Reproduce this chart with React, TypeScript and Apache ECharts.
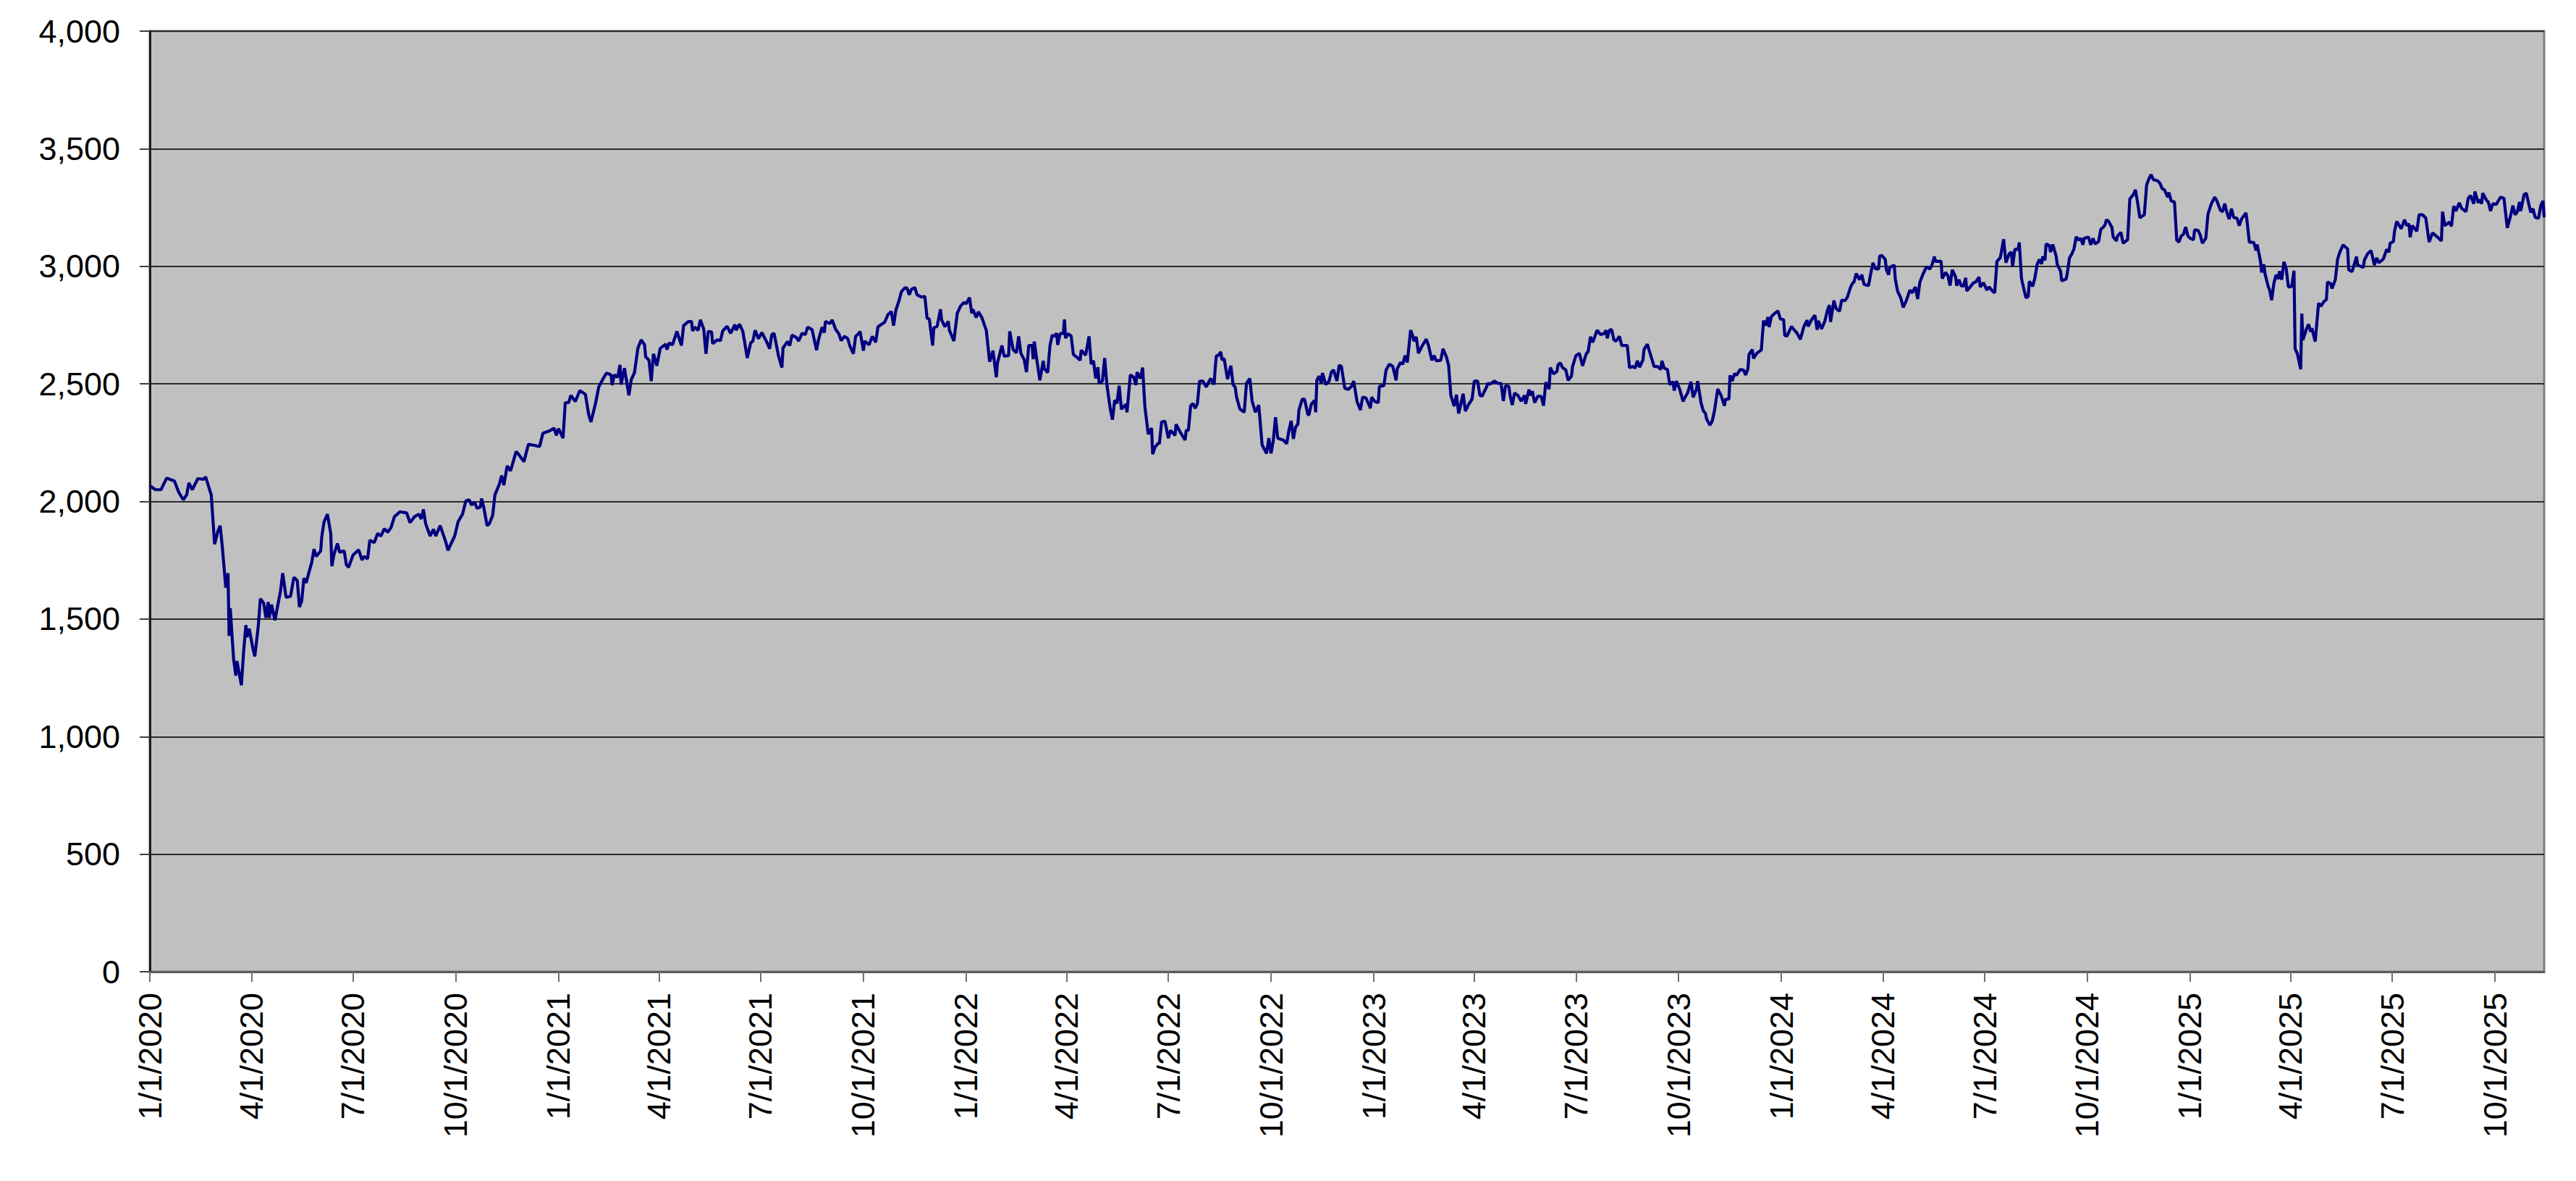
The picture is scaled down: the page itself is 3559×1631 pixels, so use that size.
import React, { useEffect, useRef } from "react";
import * as echarts from "echarts";

// Calendar-day offsets from 1/1/2020 and the index level read at each one.
const START_YEAR = 2020;
const LAST_DAY = 2144; // 11/14/2025

const days2020 = [0,5,10,15,22,26,30,33,35,38,43,48,50,55,58,61,63,65,67,68,70,71,72,75,77,78,82,84,86,87,89,92,94,97,99,102,104,106,107,109,112,117,119,122,126,129,132,134,136,138,140,142,145,147,149,153,154,156,159,162,163,165,168,170,174,176,178,182,187,190,192,195,197,201,204,207,210,213,216,219,224,230,233,237,241,243,245,247,251,254,256,260,265,267,270,273,276,280,283,286,288,291,293,296,297,299,302,304,307,309,313,315,317,320,323,328,330,335,339,345,349,352,358,362,364];
const vals2020 = [2067,2050,2050,2099,2087,2038,2007,2028,2079,2050,2097,2094,2104,2028,1818,1874,1897,1802,1690,1633,1695,1428,1546,1331,1259,1321,1218,1362,1474,1423,1459,1382,1341,1464,1587,1567,1505,1572,1505,1561,1495,1618,1695,1592,1597,1677,1664,1551,1577,1674,1654,1690,1741,1797,1766,1790,1851,1913,1946,1864,1725,1777,1821,1784,1790,1731,1720,1772,1794,1751,1766,1756,1835,1825,1864,1853,1884,1869,1889,1935,1956,1951,1910,1935,1946,1925,1966,1905,1853,1882,1853,1897,1828,1792,1823,1853,1913,1946,2002,2007,1985,1995,1971,1976,2012,1976,1897,1905,1941,2028,2074,2110,2069,2151,2130,2212,2202,2169,2243,2238,2233,2290,2300,2312,2281];

const days2021 = [366,370,372,375,377,381,385,390,393,395,399,402,406,409,413,414,416,419,421,422,425,429,431,434,437,440,443,444,447,449,451,454,457,462,463,465,468,472,476,478,482,485,486,488,491,493,496,498,500,503,504,508,511,513,517,520,524,525,528,531,535,538,540,542,545,548,552,555,557,559,563,566,567,571,573,575,579,581,584,587,589,593,597,599,602,604,605,609,611,614,617,619,622,625,627,630,632,635,636,639,640,644,647,650,652,658,661,664,666,668,671,673,676,678,680,682,685,687,691,694,696,698,701,702,705,708,709,712,715,716,720,723,726,729];
const vals2021 = [2310,2269,2420,2420,2451,2425,2471,2456,2369,2338,2415,2487,2523,2546,2538,2495,2538,2528,2581,2497,2567,2451,2517,2548,2651,2687,2666,2615,2600,2512,2628,2577,2651,2669,2646,2674,2666,2723,2663,2748,2764,2766,2725,2741,2728,2772,2733,2628,2723,2721,2671,2687,2684,2725,2745,2715,2752,2728,2754,2723,2610,2674,2682,2728,2692,2718,2682,2649,2710,2715,2618,2569,2653,2680,2663,2707,2697,2682,2715,2710,2741,2731,2643,2692,2741,2718,2766,2756,2772,2733,2713,2684,2702,2692,2659,2628,2702,2715,2723,2641,2682,2666,2702,2677,2743,2762,2795,2807,2748,2813,2856,2892,2908,2908,2879,2902,2910,2879,2869,2872,2779,2776,2663,2738,2745,2817,2772,2743,2766,2728,2682,2800,2831,2846];

const days2022 = [731,734,736,737,740,742,745,749,752,755,758,759,763,765,769,770,773,776,778,780,783,785,787,790,791,792,794,797,800,801,804,806,808,810,812,813,815,818,819,820,822,825,827,831,833,834,838,841,843,845,847,849,850,853,855,857,860,862,864,866,868,870,874,875,878,881,883,884,887,889,891,894,897,898,900,903,904,906,909,912,914,918,919,923,927,928,930,932,934,936,938,940,943,946,949,950,953,954,955,957,959,960,962,965,968,970,972,973,976,980,982,985,987,990,993,996,1000,1002,1004,1006,1008,1010,1015,1018,1020,1022,1024,1026,1028,1029,1032,1034,1037,1038,1040,1043,1044,1045,1047,1049,1050,1053,1056,1058,1060,1063,1065,1067,1070,1073,1076,1078,1081,1084,1086,1089,1093,1094];
const vals2022 = [2841,2867,2800,2817,2782,2807,2782,2728,2594,2641,2528,2589,2663,2618,2620,2723,2646,2632,2702,2630,2602,2550,2663,2663,2605,2680,2610,2515,2598,2564,2548,2661,2707,2702,2715,2666,2713,2715,2774,2694,2713,2704,2625,2610,2600,2643,2622,2702,2584,2598,2523,2571,2502,2512,2610,2497,2394,2348,2430,2417,2492,2392,2413,2379,2538,2528,2495,2550,2523,2569,2405,2286,2312,2201,2230,2248,2245,2338,2341,2269,2302,2281,2328,2292,2261,2302,2302,2407,2417,2396,2415,2512,2512,2487,2515,2523,2497,2567,2618,2622,2636,2602,2608,2520,2577,2497,2485,2446,2394,2379,2502,2523,2427,2379,2410,2240,2204,2269,2204,2259,2358,2269,2261,2245,2302,2343,2266,2317,2328,2389,2435,2435,2369,2369,2413,2430,2379,2515,2533,2502,2546,2497,2512,2550,2559,2512,2579,2574,2482,2476,2489,2512,2425,2389,2443,2440,2396,2443];

const days2023 = [1097,1100,1101,1105,1107,1110,1113,1116,1117,1120,1122,1124,1126,1129,1131,1132,1134,1136,1139,1143,1145,1148,1150,1152,1156,1158,1161,1163,1165,1168,1170,1172,1174,1176,1178,1181,1184,1186,1189,1191,1193,1197,1198,1200,1204,1207,1210,1212,1214,1217,1218,1220,1222,1225,1228,1231,1232,1235,1236,1238,1240,1243,1246,1248,1250,1253,1254,1257,1260,1261,1263,1265,1268,1270,1273,1274,1277,1280,1283,1286,1288,1290,1292,1294,1296,1299,1302,1304,1305,1307,1309,1311,1313,1316,1318,1323,1325,1328,1330,1332,1334,1337,1338,1341,1343,1347,1350,1353,1354,1356,1359,1361,1364,1365,1367,1370,1373,1374,1377,1380,1382,1385,1386,1389,1391,1393,1394,1397,1399,1401,1404,1407,1410,1411,1414,1415,1417,1419,1421,1424,1427,1429,1431,1432,1435,1436,1439,1442,1443,1445,1447,1449,1450,1452,1455,1458,1460];
const vals2023 = [2425,2420,2489,2492,2559,2584,2574,2515,2564,2591,2584,2620,2591,2728,2702,2682,2700,2630,2659,2690,2663,2600,2620,2598,2600,2649,2615,2579,2451,2405,2454,2374,2415,2458,2384,2413,2435,2512,2512,2451,2448,2487,2502,2499,2512,2502,2502,2427,2492,2489,2451,2410,2461,2451,2427,2451,2415,2476,2451,2468,2420,2448,2446,2407,2507,2478,2569,2543,2553,2581,2589,2569,2559,2515,2533,2574,2620,2630,2577,2625,2639,2700,2677,2702,2728,2710,2713,2728,2694,2728,2731,2687,2682,2702,2663,2663,2569,2574,2567,2598,2571,2602,2646,2669,2636,2574,2574,2561,2598,2567,2561,2497,2509,2471,2512,2476,2425,2437,2461,2509,2443,2478,2512,2420,2386,2374,2351,2324,2341,2384,2478,2451,2407,2435,2435,2536,2512,2543,2538,2561,2559,2538,2564,2625,2646,2608,2630,2641,2643,2769,2748,2784,2741,2786,2800,2810,2776];

const days2024 = [1463,1464,1466,1470,1472,1475,1478,1481,1484,1485,1488,1491,1493,1494,1497,1500,1502,1504,1505,1508,1510,1513,1515,1518,1520,1523,1525,1526,1528,1531,1533,1535,1539,1541,1543,1545,1548,1549,1551,1554,1555,1557,1558,1562,1563,1565,1568,1570,1573,1576,1578,1581,1583,1585,1588,1591,1594,1596,1598,1599,1604,1605,1608,1610,1612,1614,1617,1618,1620,1622,1624,1626,1627,1631,1633,1635,1638,1639,1642,1645,1647,1650,1652,1654,1657,1660,1662,1665,1667,1668,1670,1673,1674,1676,1678,1680,1682,1683,1686,1688,1690,1692,1694,1695,1697,1698,1701,1702,1704,1707,1708,1711,1712,1716,1717,1719,1721,1723,1725,1727,1729,1731,1732,1736,1738,1740,1742,1745,1747,1750,1751,1752,1754,1757,1758,1761,1762,1765,1767,1771,1773,1776,1778,1780,1782,1786,1788,1790,1792,1794,1798,1800,1802,1804,1807,1808,1810,1813,1815,1817,1819,1821,1823,1825,1827];
const vals2024 = [2773,2706,2703,2744,2732,2716,2689,2742,2771,2744,2773,2792,2730,2768,2734,2768,2809,2835,2763,2854,2820,2809,2856,2854,2868,2912,2930,2933,2969,2943,2964,2923,2918,2969,3015,2990,2988,3043,3046,3029,2985,2964,2995,3005,2946,2895,2864,2825,2856,2899,2887,2912,2861,2933,2969,2998,2988,3008,3041,3021,3021,2948,2974,2961,2918,2985,2954,2918,2943,2918,2915,2951,2895,2918,2930,2933,2954,2912,2930,2899,2912,2895,2887,3021,3036,3115,3015,3054,3060,2998,3072,3072,3101,2948,2905,2866,2871,2936,2915,2951,3008,3029,3010,3041,3026,3095,3088,3060,3093,3043,3008,2979,2938,2946,2971,3036,3052,3074,3126,3111,3119,3091,3119,3124,3091,3119,3095,3105,3157,3170,3180,3198,3191,3165,3126,3108,3129,3144,3098,3113,3287,3304,3325,3270,3206,3219,3345,3371,3390,3369,3363,3353,3330,3325,3294,3314,3278,3273,3111,3103,3129,3136,3167,3129,3119];

const days2025 = [1830,1831,1834,1836,1838,1841,1843,1846,1849,1851,1854,1856,1858,1860,1862,1864,1866,1869,1871,1873,1877,1878,1880,1884,1886,1887,1890,1891,1893,1894,1897,1898,1900,1902,1904,1906,1907,1909,1911,1913,1915,1918,1920,1921,1923,1926,1927,1928,1931,1933,1935,1936,1939,1942,1944,1947,1949,1950,1953,1954,1957,1959,1961,1964,1968,1969,1972,1976,1977,1982,1983,1986,1989,1992,1994,1996,2000,2003,2005,2006,2009,2010,2012,2016,2019,2021,2023,2024,2026,2029,2030,2032,2035,2038,2041,2044,2048,2052,2053,2055,2058,2059,2061,2063,2065,2068,2070,2074,2076,2078,2081,2082,2085,2086,2088,2089,2092,2094,2096,2098,2101,2105,2108,2111,2114,2116,2118,2120,2122,2123,2126,2128,2132,2134,2136,2139,2141,2143,2144];
const vals2025 = [3113,3155,3153,3134,3098,3119,3222,3266,3294,3278,3239,3232,3266,3227,3201,3245,3208,3204,3173,3201,3227,3191,3103,3101,3067,3093,3021,2974,3008,2969,2912,2902,2856,2928,2964,2946,2979,2943,3019,2990,2912,2915,2981,2649,2629,2562,2799,2686,2732,2753,2722,2737,2680,2843,2830,2851,2858,2933,2926,2905,2943,3029,3060,3091,3074,2985,2977,3041,3005,2995,3026,3054,3067,3005,3036,3015,3031,3072,3060,3098,3105,3149,3191,3160,3198,3173,3180,3124,3173,3155,3149,3219,3219,3206,3103,3142,3126,3108,3232,3173,3184,3188,3170,3256,3235,3270,3247,3232,3289,3301,3266,3318,3270,3284,3266,3311,3284,3273,3235,3266,3263,3294,3289,3163,3216,3258,3219,3232,3273,3235,3304,3311,3229,3245,3208,3204,3258,3278,3208];

const Y_TICKS = [0, 500, 1000, 1500, 2000, 2500, 3000, 3500, 4000];
const TICK_MONTHS = [1, 4, 7, 10];

const ALL_DAYS = [...days2020, ...days2021, ...days2022, ...days2023, ...days2024, ...days2025];
const ALL_VALS = [...vals2020, ...vals2021, ...vals2022, ...vals2023, ...vals2024, ...vals2025];

function dayLabel(offset: number): string {
  const d = new Date(Date.UTC(START_YEAR, 0, 1) + offset * 86400000);
  return `${d.getUTCMonth() + 1}/${d.getUTCDate()}/${d.getUTCFullYear()}`;
}

const CATEGORIES: string[] = [];
for (let i = 0; i <= LAST_DAY; i++) CATEGORIES.push(dayLabel(i));

function isQuarterStart(label: string): boolean {
  const parts = label.split("/");
  return parts[1] === "1" && TICK_MONTHS.includes(Number(parts[0]));
}

const FONT = "'Liberation Sans', Arial, Helvetica, sans-serif";

export default function App() {
  const ref = useRef<HTMLDivElement>(null);
  useEffect(() => {
    if (!ref.current) return;
    const chart = echarts.init(ref.current, undefined, { renderer: "svg" });
    const data = ALL_DAYS.map((d, i) => [d, ALL_VALS[i]]);
    chart.setOption({
      animation: false,
      backgroundColor: "#ffffff",
      grid: {
        left: 207,
        right: 44,
        top: 43,
        bottom: 289,
        containLabel: false,
        outerBoundsMode: "none",
        show: true,
        backgroundColor: "#C0C0C0",
        borderColor: "#808080",
        borderWidth: 3,
      },
      xAxis: {
        type: "category",
        data: CATEGORIES,
        boundaryGap: false,
        axisLine: { show: true, onZero: false, lineStyle: { color: "#5a5a5a", width: 3 } },
        axisTick: {
          show: true,
          length: 14,
          interval: (_i: number, v: string) => isQuarterStart(v),
          lineStyle: { color: "#707070", width: 2 },
        },
        axisLabel: {
          show: true,
          rotate: 90,
          margin: 29,
          interval: (_i: number, v: string) => isQuarterStart(v),
          fontSize: 45,
          fontFamily: FONT,
          color: "#000000",
        },
        splitLine: { show: false },
      },
      yAxis: {
        type: "value",
        min: Y_TICKS[0],
        max: Y_TICKS[Y_TICKS.length - 1],
        interval: Y_TICKS[1] - Y_TICKS[0],
        axisLine: { show: true, lineStyle: { color: "#1a1a1a", width: 3 } },
        axisTick: { show: true, length: 14, lineStyle: { color: "#404040", width: 2 } },
        axisLabel: {
          margin: 41,
          fontSize: 45,
          fontFamily: FONT,
          color: "#000000",
          formatter: (v: number) => v.toLocaleString("en-US"),
        },
        splitLine: { show: true, lineStyle: { color: "#2a2a2a", width: 1.8 } },
      },
      series: [
        {
          type: "line",
          data,
          showSymbol: false,
          symbol: "none",
          smooth: false,
          lineStyle: { color: "#000080", width: 4.2 },
          itemStyle: { color: "#000080" },
          z: 5,
        },
      ],
    });
    return () => chart.dispose();
  }, []);
  return (
    <div
      ref={ref}
      style={{ position: "absolute", left: 0, top: 0, width: 3559, height: 1631 }}
    />
  );
}
